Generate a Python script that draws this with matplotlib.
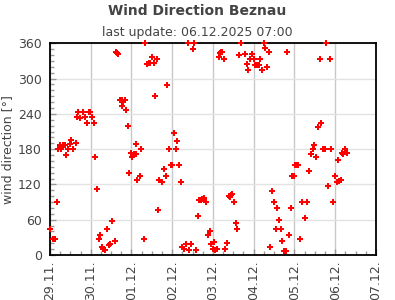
import matplotlib
matplotlib.use("Agg")
import matplotlib.pyplot as plt
import matplotlib.dates as mdates
from matplotlib.ticker import MultipleLocator
import pandas as pd

# hours since 29.11.2025 00:00
hours = [0.0, 1.6, 3.1, 3.9, 4.9, 6.1, 6.7, 7.5, 9.0, 9.6, 10.8, 12.0, 12.6, 13.8, 15.2,
         15.9, 16.7, 17.9, 19.5, 20.9, 22.0, 22.8, 23.8, 25.0, 25.8, 26.4, 27.9, 29.1, 29.7,
         30.9, 31.5, 32.3, 33.8, 35.0, 35.6, 36.8, 38.0, 38.6, 39.4, 40.0, 41.0, 42.2, 42.4,
         43.0, 43.9, 45.0, 45.7, 46.4, 48.0, 48.6, 49.0, 49.6, 50.4, 50.9, 51.5, 52.9, 53.9,
         55.1, 55.7, 56.9, 58.1, 58.7, 59.8, 61.0, 61.6, 62.8, 63.9, 64.5, 65.7, 66.9, 68.1,
         68.7, 69.9, 71.0, 71.6, 72.8, 74.0, 74.8, 75.8, 77.0, 77.5, 78.7, 79.9, 81.1, 81.7,
         82.8, 84.0, 84.6, 85.8, 87.0, 87.6, 88.8, 89.7, 90.5, 91.7, 92.9, 94.1, 94.7, 96.0,
         96.8, 97.4, 98.4, 99.6, 100.2, 100.8, 101.4, 102.6, 103.2, 104.4, 105.6, 106.2,
         106.8, 107.4, 108.6, 109.8, 110.4, 111.6, 112.8, 114.6, 115.8, 116.4, 117.6, 118.8,
         120.0, 120.6, 121.8, 123.0, 123.6, 124.8, 126.0, 126.6, 127.8, 129.0, 129.6, 130.8,
         132.0, 133.2, 133.8, 135.0, 136.2, 136.8, 138.0, 139.2, 139.8, 141.0, 142.2, 142.8,
         144.0, 144.4, 145.6, 146.2, 147.4, 148.6, 150.5, 151.7, 152.3, 153.5, 154.7, 155.3,
         156.5, 157.7, 158.9, 159.5, 160.7, 161.9, 162.5, 163.8, 165.0, 165.6, 166.8, 168.0,
         169.2, 169.8, 170.4, 171.2, 172.2, 172.8, 174.0, 175.2]
direction = [44, 27, 27, 90, 180, 187, 180, 187, 187, 170, 180, 188, 195, 180, 190,
             235, 243, 233, 243, 235, 224, 243, 243, 235, 224, 166, 112, 27, 34,
             14, 10, 9, 44, 17, 19, 57, 24, 346, 344, 341, 263, 263, 253,
             260, 263, 247, 219, 139, 173, 166, 170, 172, 172, 189, 127, 135, 180,
             27, 360, 324, 326, 327, 336, 326, 270, 333, 76, 127, 124, 146, 135,
             289, 180, 153, 153, 207, 180, 194, 153, 124, 14, 10, 19, 360, 9,
             19, 350, 360, 9, 66, 93, 93, 96, 97, 90, 34, 41, 19, 10,
             22, 9, 10, 336, 343, 345, 346, 333, 10, 20, 100, 99,
             102, 104, 90, 54, 44, 340, 360, 341, 324, 314, 333, 341,
             333, 323, 323, 323, 333, 314, 360, 352, 319, 345, 14, 109,
             90, 44, 80, 59, 44, 24, 7, 7, 346, 34, 80, 134,
             134, 153, 153, 153, 27, 90, 63, 90, 143, 172, 180, 187,
             166, 217, 333, 224, 180, 180, 360, 117, 333, 180, 90, 134,
             124, 161, 126, 127, 173, 172, 180, 173]

start = pd.Timestamp("2025-11-29")
times = start + pd.to_timedelta(hours, unit="h")

fig = plt.figure(figsize=(3.95, 3.0), dpi=100)
ax = fig.add_axes([0.1266, 0.15, 0.825, 0.7057])

ax.plot(times, direction, linestyle="none", marker="P", color="#ff0000",
        markersize=4.2, markeredgewidth=0, clip_on=False, zorder=3)

ax.set_xlim(pd.Timestamp("2025-11-29"), pd.Timestamp("2025-12-07"))
ax.set_ylim(0, 360)
ax.yaxis.set_major_locator(MultipleLocator(60))
ax.yaxis.set_minor_locator(MultipleLocator(10))
ax.xaxis.set_major_locator(mdates.DayLocator())
ax.xaxis.set_minor_locator(mdates.HourLocator(byhour=[6, 12, 18]))
ax.xaxis.set_major_formatter(mdates.DateFormatter("%d.%m."))

ax.grid(axis="x", color="#c8c8c8", linewidth=1.0, zorder=0)
ax.grid(axis="y", color="#e2e2e2", linewidth=1.0, zorder=0)
ax.set_axisbelow(True)

for s in ax.spines.values():
    s.set_color("black")
    s.set_linewidth(1.3)

txtc = "#444444"
ax.tick_params(axis="both", which="major", direction="in", length=4, color="#999999",
               labelsize=9, labelcolor=txtc, width=1)
ax.tick_params(axis="both", which="minor", direction="in", length=3, color="#999999", width=1)
ax.tick_params(axis="x", which="major", labelrotation=90, pad=4)
ax.tick_params(axis="y", which="major", pad=6)

ax.set_ylabel("wind direction [°]", fontsize=9, color=txtc, labelpad=3)

fig.text(0.5, 0.962, "Wind Direction Beznau", ha="center", va="center",
         fontsize=10, fontweight="bold", color=txtc)
fig.text(0.5, 0.893, "last update: 06.12.2025 07:00", ha="center", va="center",
         fontsize=9, color=txtc)

fig.savefig("out.png", dpi=100)
